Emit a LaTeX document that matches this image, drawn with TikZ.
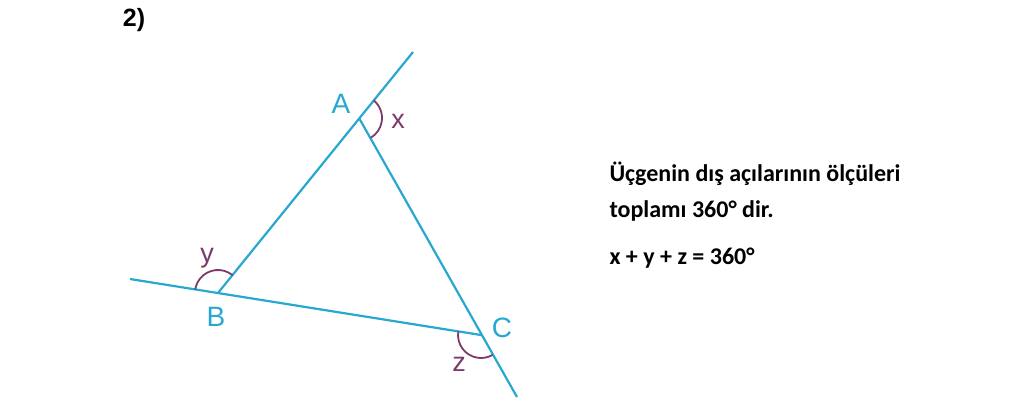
\documentclass[tikz,border=0pt]{standalone}
\usepackage{fontspec}
\setmainfont{Liberation Sans}
\newfontfamily\notefont{Carlito}
\usepackage{tikz}
\usetikzlibrary{calc}
\definecolor{lineblue}{RGB}{40,168,208}
\definecolor{arcpurple}{RGB}{122,58,108}

\begin{document}
\begin{tikzpicture}[x=1pt,y=-1pt]
  \tikzset{side/.style={lineblue,line width=2.2pt},
    angarc/.style={arcpurple,line width=1.8pt},
    vlabel/.style={lineblue,font={\fontsize{28pt}{30pt}\selectfont}},
    alabel/.style={arcpurple,font={\fontsize{27pt}{30pt}\selectfont}},
    note/.style={anchor=west,font={\notefont\bfseries\fontsize{24pt}{28pt}\selectfont}}}
  \useasboundingbox (0,0) rectangle (1024,402);
  \coordinate (A) at (359,118);
  \coordinate (B) at (218,293);
  \coordinate (C) at (481,335);
  \coordinate (Aend) at (413,52);
  \coordinate (Bend) at (130,279);
  \coordinate (Cend) at (517,397);
  % sides, extended past the vertices
  \draw[side] (B)--(Aend);
  \draw[side] (Bend)--(C);
  \draw[side] (A)--(Cend);
  % exterior angles
  \draw[angarc] ($(A)+(50:23pt)$) arc(50:-59:23pt);
  \draw[angarc] ($(B)+(51:23pt)$) arc(51:171:23pt);
  \draw[angarc] ($(C)+(171:23pt)$) arc(171:300:23pt);
  \node[vlabel] (lA) at (341,104) {A};
  \node[vlabel] (lB) at (216,317) {B};
  \node[vlabel] (lC) at (502,328) {C};
  \node[alabel] (lx) at (398,121) {x};
  \node[alabel] (ly) at (207,258) {y};
  \node[alabel] (lz) at (459,364) {z};
  \node[font={\bfseries\fontsize{25pt}{27pt}\selectfont}] (num) at (134,20) {2)};
  \node[note] (t1) at (606,174) {Üçgenin dış açılarının ölçüleri};
  \node[note] (t2) at (606,211) {toplamı 360° dir.};
  \node[note] (t3) at (606,258) {x + y + z = 360°};
\end{tikzpicture}
\end{document}
